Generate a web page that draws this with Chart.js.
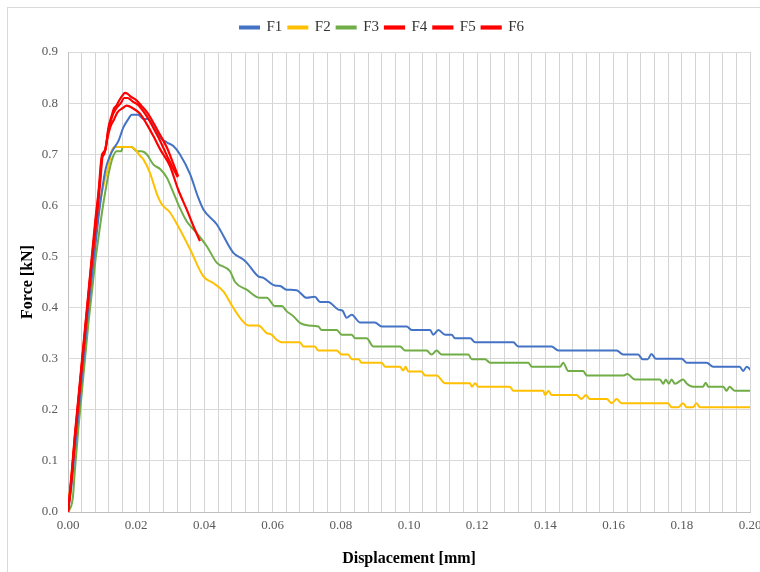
<!DOCTYPE html>
<html>
<head>
<meta charset="utf-8">
<script src="https://cdn.jsdelivr.net/npm/chart.js@4.4.1/dist/chart.umd.min.js"></script>
<style>
  html, body { margin: 0; padding: 0; background: #fff; overflow: hidden; }
  #wrap { position: relative; width: 784px; height: 572px; }
</style>
</head>
<body>
<div id="wrap"><canvas id="myChart" width="784" height="572"></canvas></div>
<script>
// displacement [mm] / force [kN] per specimen
const f1Disp = [0, 0.001, 0.002, 0.003, 0.004, 0.005, 0.006, 0.007, 0.008, 0.009, 0.010, 0.011, 0.0123, 0.0135, 0.0148, 0.0162, 0.0177, 0.0187, 0.0206, 0.0221, 0.0235, 0.025, 0.027, 0.029, 0.0309, 0.0328, 0.0358, 0.0382, 0.0397, 0.0436, 0.0485, 0.0514, 0.0524, 0.0558, 0.0573, 0.0607, 0.0622, 0.0641, 0.067, 0.070, 0.0724, 0.0739, 0.0763, 0.0793, 0.0805, 0.0817, 0.0832, 0.0856, 0.090, 0.092, 0.0993, 0.1008, 0.1062, 0.1071, 0.1086, 0.1106, 0.1125, 0.1135, 0.118, 0.1194, 0.1306, 0.132, 0.1418, 0.1438, 0.1609, 0.1628, 0.1672, 0.1685, 0.170, 0.1711, 0.1724, 0.180, 0.1814, 0.1873, 0.1892, 0.197, 0.198, 0.199, 0.2005];
const f1Force = [0, 0.05, 0.12, 0.19, 0.26, 0.33, 0.40, 0.46, 0.52, 0.58, 0.63, 0.67, 0.697, 0.712, 0.726, 0.752, 0.769, 0.777, 0.777, 0.769, 0.769, 0.755, 0.733, 0.723, 0.716, 0.700, 0.661, 0.615, 0.592, 0.563, 0.507, 0.494, 0.488, 0.461, 0.458, 0.443, 0.442, 0.435, 0.434, 0.419, 0.421, 0.411, 0.411, 0.396, 0.394, 0.380, 0.386, 0.371, 0.371, 0.363, 0.363, 0.356, 0.356, 0.347, 0.356, 0.347, 0.347, 0.340, 0.340, 0.332, 0.332, 0.324, 0.324, 0.316, 0.316, 0.308, 0.308, 0.299, 0.299, 0.309, 0.300, 0.300, 0.292, 0.292, 0.284, 0.284, 0.276, 0.284, 0.276];

const f2Disp = [0, 0.0005, 0.001, 0.002, 0.003, 0.004, 0.005, 0.006, 0.007, 0.008, 0.0094, 0.0108, 0.0118, 0.0128, 0.0138, 0.0182, 0.0196, 0.0211, 0.0221, 0.024, 0.025, 0.0262, 0.0275, 0.0299, 0.0323, 0.0358, 0.0397, 0.0426, 0.0455, 0.0485, 0.0509, 0.0529, 0.0558, 0.0583, 0.0597, 0.0612, 0.0627, 0.068, 0.069, 0.0724, 0.0734, 0.0788, 0.0803, 0.0822, 0.0832, 0.0852, 0.0861, 0.092, 0.093, 0.0974, 0.0983, 0.099, 0.0998, 0.1037, 0.1047, 0.1081, 0.1106, 0.1179, 0.1184, 0.1194, 0.1203, 0.1296, 0.1306, 0.1394, 0.1399, 0.1409, 0.1418, 0.1491, 0.1506, 0.1519, 0.153, 0.158, 0.1594, 0.1609, 0.1623, 0.176, 0.177, 0.179, 0.1804, 0.1814, 0.1833, 0.1843, 0.1853, 0.2];
const f2Force = [0.03, 0.04, 0.07, 0.14, 0.21, 0.28, 0.35, 0.41, 0.47, 0.53, 0.605, 0.65, 0.674, 0.706, 0.714, 0.714, 0.710, 0.697, 0.690, 0.664, 0.644, 0.620, 0.602, 0.586, 0.559, 0.514, 0.461, 0.448, 0.432, 0.399, 0.376, 0.365, 0.365, 0.350, 0.347, 0.337, 0.332, 0.332, 0.324, 0.324, 0.316, 0.316, 0.308, 0.308, 0.299, 0.299, 0.292, 0.292, 0.284, 0.284, 0.277, 0.284, 0.275, 0.275, 0.267, 0.267, 0.252, 0.252, 0.245, 0.252, 0.245, 0.245, 0.237, 0.237, 0.229, 0.237, 0.229, 0.229, 0.221, 0.229, 0.221, 0.221, 0.213, 0.221, 0.213, 0.213, 0.205, 0.205, 0.213, 0.205, 0.205, 0.213, 0.205, 0.205];

const f3Disp = [0, 0.0014, 0.002, 0.003, 0.004, 0.005, 0.006, 0.007, 0.008, 0.009, 0.0104, 0.0123, 0.0133, 0.0143, 0.0157, 0.016, 0.0187, 0.0201, 0.0216, 0.0231, 0.025, 0.027, 0.029, 0.0309, 0.0328, 0.0348, 0.0377, 0.0407, 0.0436, 0.0475, 0.049, 0.0524, 0.0563, 0.0583, 0.0607, 0.0627, 0.0641, 0.0661, 0.068, 0.0705, 0.0734, 0.0744, 0.0788, 0.0803, 0.0832, 0.0842, 0.0876, 0.0895, 0.0974, 0.0988, 0.1052, 0.1066, 0.1081, 0.1096, 0.1174, 0.1184, 0.1223, 0.1238, 0.135, 0.136, 0.1443, 0.1452, 0.1467, 0.1511, 0.1521, 0.1628, 0.164, 0.1663, 0.1736, 0.1746, 0.1753, 0.1762, 0.177, 0.178, 0.1804, 0.1815, 0.1833, 0.1862, 0.187, 0.1878, 0.1922, 0.1931, 0.194, 0.1956, 0.2];
const f3Force = [0, 0.027, 0.08, 0.16, 0.23, 0.30, 0.37, 0.43, 0.49, 0.54, 0.605, 0.674, 0.697, 0.706, 0.706, 0.714, 0.714, 0.706, 0.706, 0.700, 0.680, 0.671, 0.654, 0.625, 0.595, 0.569, 0.546, 0.520, 0.488, 0.471, 0.450, 0.435, 0.419, 0.419, 0.403, 0.403, 0.393, 0.383, 0.370, 0.365, 0.363, 0.356, 0.356, 0.347, 0.347, 0.340, 0.340, 0.324, 0.324, 0.316, 0.316, 0.308, 0.316, 0.308, 0.308, 0.299, 0.299, 0.292, 0.292, 0.284, 0.284, 0.292, 0.276, 0.276, 0.267, 0.267, 0.270, 0.259, 0.259, 0.251, 0.259, 0.251, 0.259, 0.251, 0.259, 0.251, 0.245, 0.245, 0.253, 0.245, 0.245, 0.237, 0.245, 0.237, 0.237];

const f4Disp = [0, 0.001, 0.002, 0.003, 0.004, 0.005, 0.006, 0.007, 0.008, 0.0088, 0.0095, 0.0102, 0.011, 0.0118, 0.0128, 0.0135, 0.0142, 0.015, 0.016, 0.0167, 0.0175, 0.0185, 0.020, 0.0215, 0.0231, 0.0245, 0.026, 0.0275, 0.029, 0.0305, 0.0323];
const f4Force = [0, 0.06, 0.14, 0.21, 0.28, 0.35, 0.42, 0.49, 0.55, 0.60, 0.65, 0.70, 0.71, 0.75, 0.775, 0.79, 0.795, 0.805, 0.815, 0.82, 0.818, 0.812, 0.806, 0.795, 0.783, 0.768, 0.75, 0.732, 0.713, 0.688, 0.657];

const f5Disp = [0, 0.001, 0.002, 0.003, 0.004, 0.005, 0.006, 0.007, 0.008, 0.0088, 0.0095, 0.010, 0.0108, 0.0118, 0.013, 0.0142, 0.0155, 0.0165, 0.0175, 0.019, 0.0205, 0.022, 0.0235, 0.025, 0.0265, 0.028, 0.0295, 0.031, 0.0322];
const f5Force = [0, 0.065, 0.145, 0.215, 0.285, 0.355, 0.425, 0.495, 0.56, 0.61, 0.66, 0.70, 0.705, 0.745, 0.775, 0.79, 0.80, 0.81, 0.81, 0.803, 0.797, 0.785, 0.77, 0.752, 0.733, 0.712, 0.69, 0.67, 0.655];

const f6Disp = [0, 0.001, 0.002, 0.003, 0.004, 0.005, 0.006, 0.007, 0.008, 0.009, 0.0098, 0.0106, 0.0115, 0.0125, 0.0135, 0.0145, 0.016, 0.0172, 0.019, 0.021, 0.023, 0.025, 0.027, 0.0299, 0.0323, 0.0348, 0.0368, 0.0387];
const f6Force = [0, 0.07, 0.15, 0.22, 0.29, 0.36, 0.43, 0.50, 0.57, 0.63, 0.69, 0.70, 0.73, 0.755, 0.768, 0.782, 0.79, 0.795, 0.79, 0.78, 0.76, 0.736, 0.71, 0.677, 0.631, 0.592, 0.559, 0.53];

const seriesNames = ["F1", "F2", "F3", "F4", "F5", "F6"];
const seriesColors = ["#4472C4", "#FFC000", "#70AD47", "#FF0000", "#FF0000", "#FF0000"];
const xTicks = ["0.00", "0.02", "0.04", "0.06", "0.08", "0.10", "0.12", "0.14", "0.16", "0.18", "0.20"];

const allDisp = [f1Disp, f2Disp, f3Disp, f4Disp, f5Disp, f6Disp];
const allForce = [f1Force, f2Force, f3Force, f4Force, f5Force, f6Force];

// outer chart frame + a bit more room under the legend
const frame = {
    id: "frame",
    beforeInit(chart) {
        const lg = chart.legend;
        if (lg) {
            const fit = lg.fit;
            lg.fit = function () {
                fit.call(this);
                this.height += 7;
            };
        }
    },
    beforeDraw(chart) {
        const c = chart.ctx;
        c.save();
        c.strokeStyle = "#d9d9d9";
        c.lineWidth = 1;
        c.strokeRect(7.5, 7.5, 900, 900);
        c.restore();
    }
};

const serif = "'Liberation Serif', 'Times New Roman', serif";

const ctx = document.getElementById("myChart").getContext("2d");
const myChart = new Chart(ctx, {
    type: "line",
    data: {
        datasets: seriesNames.map((name, i) => ({
            label: name,
            data: allDisp[i].map((d, j) => ({ x: d, y: allForce[i][j] })),
            borderColor: seriesColors[i],
            backgroundColor: seriesColors[i],
            borderWidth: i < 3 ? 2 : 2.2,
            pointRadius: 0,
            cubicInterpolationMode: "monotone",
            order: i < 3 ? 1 : 0,
        })),
    },
    options: {
        responsive: false,
        animation: false,
        layout: { padding: { left: 14, right: 34, top: 14, bottom: 0 } },
        plugins: {
            legend: {
                position: "top",
                labels: {
                    boxWidth: 19,
                    boxHeight: 2,
                    color: "#333",
                    font: { family: serif, size: 15 },
                    padding: 6,
                    sort: (a, b) => a.datasetIndex - b.datasetIndex,
                },
            },
            tooltip: { enabled: false },
        },
        scales: {
            x: {
                type: "linear",
                min: 0,
                max: 0.2,
                afterFit: (s) => { s.height = 60; },
                grid: { color: "#d4d4d4", drawTicks: false },
                border: { color: "#bfbfbf" },
                ticks: {
                    stepSize: 0.004,
                    autoSkip: false,
                    maxRotation: 0,
                    padding: 6,
                    color: "#595959",
                    font: { family: serif, size: 13 },
                    callback: (v, idx) => (idx % 5 === 0 ? xTicks[idx / 5] : ""),
                },
                title: {
                    display: true,
                    text: "Displacement [mm]",
                    color: "#000",
                    font: { family: serif, size: 16, weight: "bold" },
                    padding: { top: 4, bottom: 4 },
                },
            },
            y: {
                min: 0,
                max: 0.9,
                afterFit: (s) => { s.width = 54; },
                grid: { color: "#d9d9d9", drawTicks: false },
                border: { color: "#bfbfbf" },
                ticks: {
                    stepSize: 0.1,
                    padding: 10,
                    color: "#595959",
                    font: { family: serif, size: 13 },
                    callback: (v) => v.toFixed(1),
                },
                title: {
                    display: true,
                    text: "Force [kN]",
                    color: "#000",
                    font: { family: serif, size: 16, weight: "bold" },
                    padding: 4,
                },
            },
        },
    },
    plugins: [frame],
});
</script>
</body>
</html>
